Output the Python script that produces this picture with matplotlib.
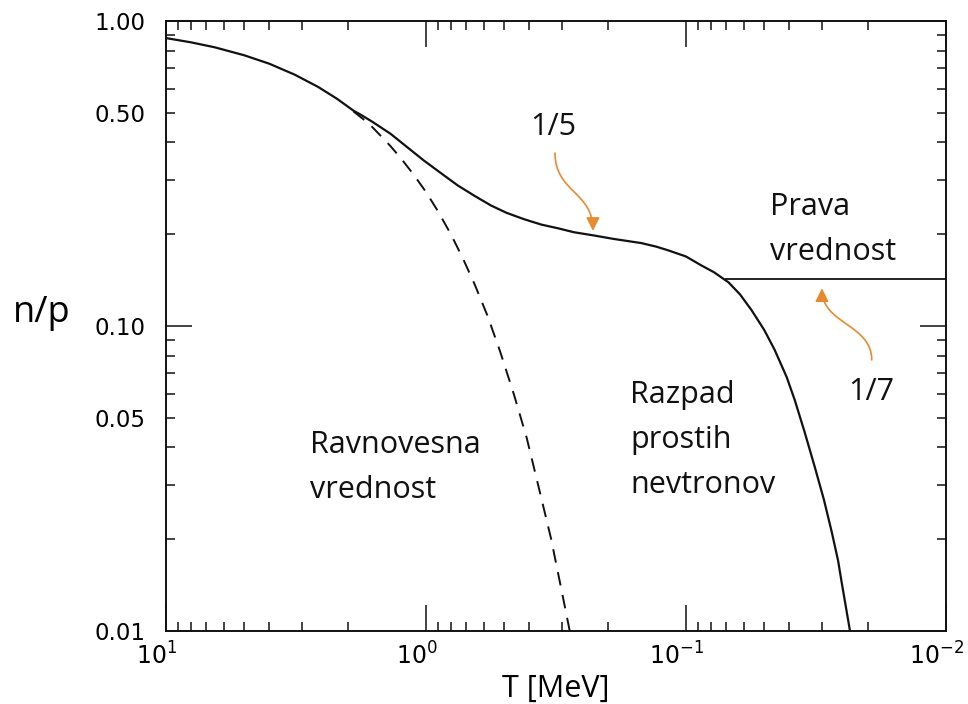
"""Neutron-to-proton ratio versus temperature in the early universe."""
import matplotlib
matplotlib.use("Agg")
import matplotlib.pyplot as plt
import numpy as np
from matplotlib.patches import FancyArrowPatch
from matplotlib.path import Path
from matplotlib.transforms import ScaledTranslation
from matplotlib.ticker import FixedLocator, FuncFormatter, LogFormatterSciNotation, LogLocator, NullFormatter

# actual n/p ratio (solid line)
T_actual = [10, 8, 6.5, 5, 4, 3.2, 2.6, 2.2, 1.9, 1.79, 1.6, 1.37, 1.2, 1.02, 0.88,
            0.755, 0.65, 0.563, 0.49, 0.42, 0.36, 0.31, 0.27, 0.2255, 0.19, 0.1485,
            0.13, 0.117, 0.1, 0.0873, 0.078, 0.0686, 0.062, 0.056, 0.05, 0.0456,
            0.041, 0.0382, 0.035, 0.032, 0.0295, 0.0275, 0.026, 0.0252, 0.0234]
np_actual = [0.879, 0.851, 0.82, 0.772, 0.724, 0.667, 0.608, 0.556, 0.508, 0.494,
             0.466, 0.427, 0.39, 0.349, 0.318, 0.289, 0.267, 0.2485, 0.235, 0.224,
             0.215, 0.209, 0.203, 0.198, 0.193, 0.187, 0.182, 0.177, 0.169, 0.158,
             0.15, 0.139, 0.127, 0.1128, 0.097, 0.0835, 0.068, 0.0573, 0.045,
             0.0346, 0.027, 0.0211, 0.017, 0.01446, 0.01]

# equilibrium n/p ratio (dashed line)
T_equil = [1.9, 1.75, 1.63, 1.5, 1.37, 1.25, 1.12, 1.0, 0.9, 0.8, 0.72, 0.65, 0.58,
           0.52, 0.46, 0.41, 0.37, 0.33, 0.30, 0.28]
np_equil = [0.505, 0.478, 0.454, 0.422, 0.389, 0.355, 0.315, 0.275, 0.238, 0.199,
            0.166, 0.137, 0.108, 0.083, 0.060, 0.043, 0.030, 0.020, 0.0134, 0.010]

# frozen-out ratio after the decay curve branches off
T_freeze = [0.07, 0.01]
np_freeze = [1 / 7, 1 / 7]

INK = "#111111"
ORANGE = "#E88A2E"
TEXT_FONT = ["Open Sans", "DejaVu Sans"]

fig = plt.figure(figsize=(9.68, 7.04), dpi=100)
ax = fig.add_axes([166 / 968, 1 - 631 / 704, 780 / 968, 610 / 704])

ax.plot(T_actual, np_actual, color=INK, lw=1.6)
ax.plot(T_equil, np_equil, color=INK, lw=1.4, dashes=(7, 5))
ax.plot(T_freeze, np_freeze, color=INK, lw=1.3)

ax.set_xscale("log")
ax.set_yscale("log")
ax.set_xlim(10, 0.01)
ax.set_ylim(0.01, 1.0)

for side in ax.spines.values():
    side.set_linewidth(1.4)
    side.set_color(INK)

ax.xaxis.set_major_locator(FixedLocator([10, 1, 0.1, 0.01]))
ax.xaxis.set_minor_locator(LogLocator(base=10, subs=np.arange(2, 10), numticks=20))
ax.xaxis.set_major_formatter(LogFormatterSciNotation())
ax.xaxis.set_minor_formatter(NullFormatter())

ax.yaxis.set_major_locator(FixedLocator([0.01, 0.1, 1.0]))
ax.yaxis.set_minor_locator(LogLocator(base=10, subs=np.arange(2, 10), numticks=20))
ax.yaxis.set_major_formatter(FuncFormatter(lambda v, _: f"{v:.2f}"))
ax.yaxis.set_minor_formatter(
    FuncFormatter(lambda v, _: f"{v:.2f}" if np.isclose(v, 0.5) or np.isclose(v, 0.05) else ""))

ax.tick_params(which="both", direction="in", top=True, right=True, color=INK, width=1.1)
ax.tick_params(which="major", length=19)
ax.tick_params(which="minor", length=6.5)
ax.tick_params(axis="y", which="both", labelsize=16.5, pad=15)
ax.tick_params(axis="x", which="both", labelsize=17, pad=8)

# decade labels sit a little left of their ticks
shift = ScaledTranslation(-0.09, 0, fig.dpi_scale_trans)
for tick in ax.xaxis.get_major_ticks():
    tick.label1.set_transform(tick.label1.get_transform() + shift)

ax.set_xlabel("T [MeV]", fontsize=22, family=TEXT_FONT)
ax.xaxis.set_label_coords(0.5, -0.07)
ax.text(-0.159, 0.507, "n/p", transform=ax.transAxes, fontsize=26,
        family=TEXT_FONT, ha="center", va="baseline")


def put_lines(x, y0, lines, step=0.0738):
    for i, line in enumerate(lines):
        ax.text(x, y0 - i * step, line, transform=ax.transAxes, fontsize=22,
                family=TEXT_FONT, color=INK, ha="left", va="baseline")


put_lines(0.774, 0.682, ["Prava", "vrednost"])
put_lines(0.595, 0.374, ["Razpad", "prostih", "nevtronov"])
put_lines(0.1846, 0.292, ["Ravnovesna", "vrednost"])

ax.text(0.496, 0.813, "1/5", transform=ax.transAxes, fontsize=22,
        family=TEXT_FONT, color=INK, ha="center", va="baseline")
ax.text(0.904, 0.379, "1/7", transform=ax.transAxes, fontsize=22,
        family=TEXT_FONT, color=INK, ha="center", va="baseline")


def curly_arrow(start, tip):
    # S-shaped arrow between two data points, drawn in axes coordinates
    to_axes = ax.transData + ax.transAxes.inverted()
    (x0, y0), (x1, y1) = to_axes.transform([start, tip])
    ym = (y0 + y1) / 2
    path = Path([(x0, y0), (x0, ym), (x1, ym), (x1, y1)],
                [Path.MOVETO, Path.CURVE4, Path.CURVE4, Path.CURVE4])
    ax.add_patch(FancyArrowPatch(path=path, transform=ax.transAxes,
                                 arrowstyle="-|>", mutation_scale=20,
                                 color=ORANGE, lw=1.2))


curly_arrow((0.319, 0.369), (0.228, 0.205))
curly_arrow((0.0193, 0.0774), (0.030, 0.133))

fig.savefig("out.png", dpi=100)
